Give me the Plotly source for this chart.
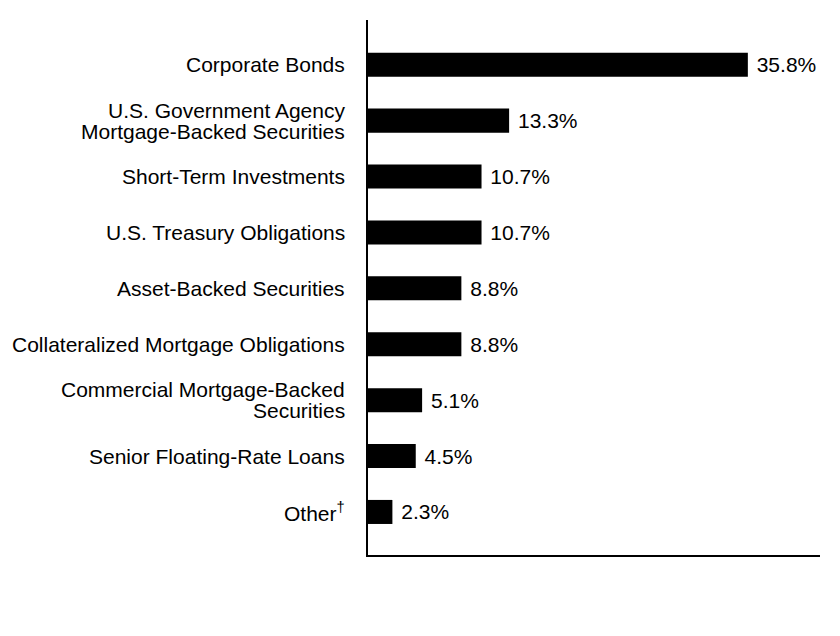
import plotly.graph_objects as go

categories = [
    'Corporate Bonds',
    'U.S. Government Agency<br>Mortgage-Backed Securities',
    'Short-Term Investments',
    'U.S. Treasury Obligations',
    'Asset-Backed Securities',
    'Collateralized Mortgage Obligations',
    'Commercial Mortgage-Backed<br>Securities',
    'Senior Floating-Rate Loans',
    'Other<sup>†</sup>',
]
values = [35.8, 13.3, 10.7, 10.7, 8.8, 8.8, 5.1, 4.5, 2.3]
labels = ['35.8%', '13.3%', '10.7%', '10.7%', '8.8%', '8.8%', '5.1%', '4.5%', '2.3%']

fig = go.Figure(go.Bar(
    x=values,
    y=categories,
    orientation='h',
    marker=dict(color='black', line=dict(width=0)),
    text=[' ' + t for t in labels],
    textposition='outside',
    textfont=dict(size=21, color='black'),
    cliponaxis=False,
    width=0.43,
))

# category labels as annotations so that two-line labels get tight line spacing
annotations = []
for cat in categories:
    lines = cat.split('<br>')
    n = len(lines)
    for i, line in enumerate(lines):
        annotations.append(dict(
            x=0, xref='paper', xanchor='right', xshift=-21,
            y=cat, yref='y', yanchor='middle',
            yshift=(n - 1) * 10.5 - i * 21,
            text=line, showarrow=False,
            font=dict(size=21, color='black'),
        ))

fig.update_layout(
    width=840, height=636,
    margin=dict(l=360, r=28, t=12, b=89),
    plot_bgcolor='white',
    paper_bgcolor='white',
    font=dict(family='Liberation Sans, Arial', size=21, color='black'),
    showlegend=False,
    annotations=annotations,
    xaxis=dict(range=[0, 42.6], showgrid=False, zeroline=False,
               showticklabels=False, showline=True, linecolor='black',
               linewidth=2, ticks=''),
    yaxis=dict(range=[8.77, -0.8], showgrid=False, zeroline=False,
               showline=True, linecolor='black', linewidth=2, ticks='',
               showticklabels=False),
)

fig.write_html("out.html")
